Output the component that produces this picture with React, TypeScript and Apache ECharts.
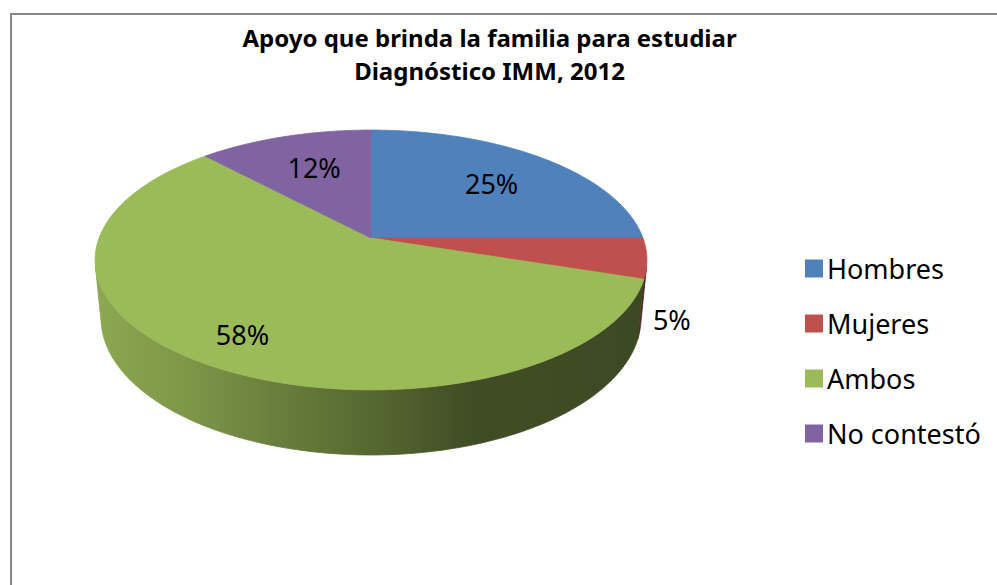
import React, { useEffect, useRef } from "react";
import * as echarts from "echarts";

// ---------- data ----------
const categories = ["Hombres", "Mujeres", "Ambos", "No contestó"];
const values = [25, 5, 58, 12];
const titleLines = ["Apoyo que brinda la familia para estudiar", "Diagnóstico IMM, 2012"];

// ---------- style ----------
const colors = ["#4f81bd", "#c0504d", "#9bbb59", "#8064a2"];
const FONT = "'Noto Sans', 'DejaVu Sans', sans-serif";

// 3D projection of the pie (camera tilt + perspective)
const CX = 371;
const CY = 238;
const FOCAL = 1425;
const DIST = 5.24;
const SIN_A = 0.464;
const COS_A = 0.886;
const THICK = 0.244;

const total = values.reduce((a, b) => a + b, 0);
const starts: number[] = [];
{
  let acc = 0;
  for (const v of values) {
    starts.push((acc / total) * 360);
    acc += v;
  }
}

function project(phiDeg: number, r: number, y: number): number[] {
  const p = (phiDeg * Math.PI) / 180;
  const X = r * Math.sin(p);
  const Z = r * Math.cos(p);
  const depth = DIST + Z * COS_A - y * SIN_A;
  return [CX + (FOCAL * X) / depth, CY - (FOCAL * (y * COS_A + Z * SIN_A)) / depth];
}

const SIDE_BETA = (Math.acos(1 / (DIST * COS_A)) * 180) / Math.PI;
const SIDE_FROM = 180 - SIDE_BETA;
const SIDE_TO = 180 + SIDE_BETA;

function arc(a: number, b: number, r: number, y: number): number[][] {
  const n = Math.max(2, Math.ceil(Math.abs(b - a)));
  const pts: number[][] = [];
  for (let k = 0; k <= n; k++) pts.push(project(a + ((b - a) * k) / n, r, y));
  return pts;
}

function shade(hex: string, m: number): string {
  const n = parseInt(hex.slice(1), 16);
  const r = Math.round(((n >> 16) & 255) * m);
  const g = Math.round(((n >> 8) & 255) * m);
  const b = Math.round((n & 255) * m);
  return `rgb(${r},${g},${b})`;
}

const sideStops = [
  [0, 0.9],
  [0.16, 0.81],
  [0.34, 0.67],
  [0.52, 0.54],
  [0.68, 0.41],
  [1, 0.39],
];

function makeRender(i: number) {
  return (params: any, api: any) => {
    const v = api.value(0);
    const a = starts[i];
    const b = a + (v / total) * 360;
    const color = colors[i];
    const children: any[] = [];

    // top face
    const top = [project(0, 0, 0), ...arc(a, b, 1, 0)];
    children.push({
      type: "polygon",
      z2: 10,
      shape: { points: top },
      style: { fill: color, stroke: color, lineWidth: 0.8 },
    });

    // visible side wall
    const s0 = Math.max(a, SIDE_FROM);
    const s1 = Math.min(b, SIDE_TO);
    if (s1 > s0) {
      const upper = arc(s0, s1, 1, 0);
      const lower = arc(s0, s1, 1, -THICK).reverse();
      const xl = project(SIDE_TO, 1, 0)[0];
      const xr = project(SIDE_FROM, 1, 0)[0];
      const grad = new echarts.graphic.LinearGradient(
        xl,
        0,
        xr,
        0,
        sideStops.map(([o, m]) => ({ offset: o, color: shade(color, m) })),
        true
      );
      children.push({
        type: "polygon",
        z2: 5,
        shape: { points: [...upper, ...lower] },
        style: { fill: grad, stroke: grad, lineWidth: 0.8 },
      });
    }

    // data label
    const share = v / total;
    const mid = (a + b) / 2;
    const label = `${Math.round(share * 100)}%`;
    if (share < 0.08) {
      const p = project(mid, 1, -THICK);
      const right = Math.sin((mid * Math.PI) / 180) >= 0;
      children.push({
        type: "text",
        z2: 30,
        x: p[0] + (right ? 12 : -12),
        y: p[1] + 3,
        style: {
          text: label,
          fill: "#000",
          font: `27px ${FONT}`,
          align: right ? "left" : "right",
          verticalAlign: "middle",
        },
      });
    } else {
      const r = share > 0.5 ? 0.8 : 0.66;
      const p = project(mid, r, 0);
      children.push({
        type: "text",
        z2: 30,
        x: p[0] + 3,
        y: p[1],
        style: {
          text: label,
          fill: "#000",
          font: `27px ${FONT}`,
          align: "center",
          verticalAlign: "middle",
        },
      });
    }
    return { type: "group", children };
  };
}

export default function App() {
  const ref = useRef<HTMLDivElement>(null);
  useEffect(() => {
    document.body.style.margin = "0";
    if (!ref.current) return;
    const chart = echarts.init(ref.current, undefined, { renderer: "svg" });
    chart.setOption({
      animation: false,
      backgroundColor: "#ffffff",
      title: {
        text: titleLines.join("\n"),
        left: 489.5,
        top: 21,
        textAlign: "center",
        padding: 0,
        textStyle: {
          fontFamily: FONT,
          fontSize: 24,
          fontWeight: "bold",
          color: "#000",
          lineHeight: 33,
        },
      },
      legend: {
        data: categories,
        orient: "vertical",
        left: 800,
        top: 250,
        itemWidth: 18,
        itemHeight: 18,
        itemGap: 28,
        icon: "rect",
        selectedMode: false,
        textStyle: {
          fontFamily: FONT,
          fontSize: 27,
          lineHeight: 27,
          color: "#000",
          padding: [0, 0, 0, -1],
        },
      },
      graphic: [
        {
          type: "rect",
          shape: { x: 11, y: 14, width: 1000, height: 600 },
          style: { fill: "none", stroke: "#878787", lineWidth: 2 },
          silent: true,
        },
      ],
      series: categories.map((name, i) => ({
        type: "custom",
        name,
        coordinateSystem: "none",
        silent: true,
        itemStyle: { color: colors[i] },
        data: [[values[i]]],
        renderItem: makeRender(i),
      })),
    });
    return () => chart.dispose();
  }, []);
  return (
    <div
      ref={ref}
      style={{ position: "fixed", left: 0, top: 0, width: 997, height: 585 }}
    />
  );
}
